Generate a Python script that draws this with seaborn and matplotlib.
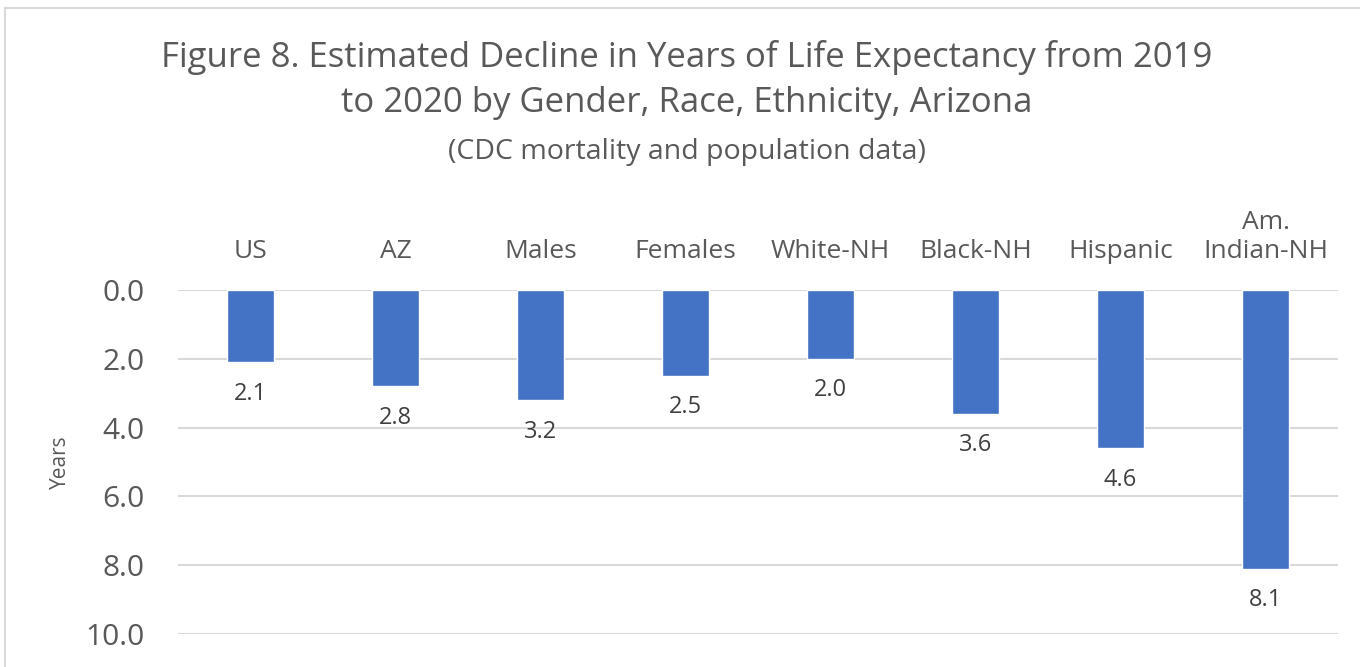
import matplotlib.pyplot as plt
import seaborn as sns
from matplotlib.patches import Rectangle

# data
groups = ["US", "AZ", "Males", "Females", "White-NH", "Black-NH", "Hispanic", "Am.\nIndian-NH"]
decline = [2.1, 2.8, 3.2, 2.5, 2.0, 3.6, 4.6, 8.1]
yticks = [0, 2, 4, 6, 8, 10]

sns.set_theme(style="white")
plt.rcParams["font.family"] = ["Open Sans", "DejaVu Sans"]

grey = "#595959"
fig = plt.figure(figsize=(13.6, 6.67), dpi=100)

# chart border (only top/left visible in the crop)
fig.patches.append(Rectangle((5 / 1360, -0.1), 1.2, 1 - 8 / 667 + 0.1,
                             transform=fig.transFigure, fill=False,
                             edgecolor="#d9d9d9", linewidth=1.5))

ax = fig.add_axes([178 / 1360, 1 - 634 / 667, 1160 / 1360, 344 / 667])
sns.barplot(x=groups, y=decline, color="#4472C4", width=0.32, ax=ax, saturation=1)

ax.set_ylim(10, 0)
ax.set_yticks(yticks)
ax.set_yticklabels([f"{v:.1f}" for v in yticks])
ax.yaxis.grid(True, color="#d9d9d9", linewidth=1.5)
ax.set_axisbelow(True)
for s in ax.spines.values():
    s.set_visible(False)

ax.xaxis.tick_top()
ax.tick_params(axis="x", length=0, pad=19, labelsize=19, labelcolor=grey)
ax.tick_params(axis="y", length=0, pad=24, labelsize=21.5, labelcolor=grey)
ax.set_xlabel("")
ax.set_ylabel("Years", fontsize=15, color=grey)
ax.yaxis.set_label_coords(-0.092, 0.5)

ax.bar_label(ax.containers[0], fmt="%.1f", padding=14, fontsize=17, color="#404040")

fig.text(0.505, 0.914, "Figure 8. Estimated Decline in Years of Life Expectancy from 2019",
         ha="center", va="center", fontsize=25, color=grey)
fig.text(0.505, 0.845, "to 2020 by Gender, Race, Ethnicity, Arizona",
         ha="center", va="center", fontsize=25, color=grey)
fig.text(0.505, 0.772, "(CDC mortality and population data)",
         ha="center", va="center", fontsize=20.5, color=grey)

fig.savefig("out.png", dpi=100)
